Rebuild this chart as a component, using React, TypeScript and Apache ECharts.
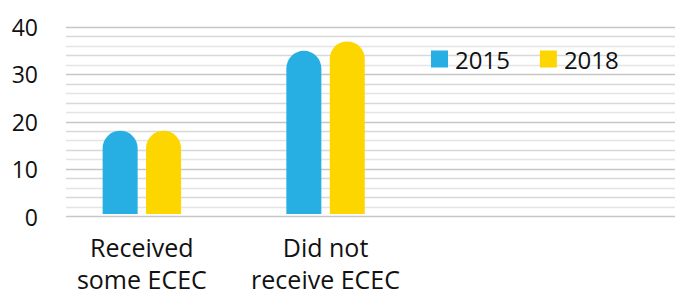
import React, { useEffect, useRef } from "react";
import * as echarts from "echarts";

const categories = ["Received\nsome ECEC", "Did not\nreceive ECEC"];
const series2015 = [17.8, 34.9];
const series2018 = [17.8, 36.9];
const yTickLabels = [0, 10, 20, 30, 40];

const FONT = "'Open Sans', 'Noto Sans', sans-serif";

export default function App() {
  const ref = useRef<HTMLDivElement>(null);
  useEffect(() => {
    if (!ref.current) return;
    const chart = echarts.init(ref.current, null, { renderer: "svg" });
    const gridTop = 27;
    const gridBottom = 78.5;
    chart.setOption({
      animation: false,
      backgroundColor: "#ffffff",
      textStyle: { fontFamily: FONT },
      legend: {
        left: 426,
        top: 42,
        itemWidth: 17,
        itemHeight: 17,
        itemGap: 30,
        icon: "rect",
        textStyle: { fontSize: 24, color: "#111", fontFamily: FONT, padding: [0, 0, 0, 2] },
        data: ["2015", "2018"],
      },
      grid: [
        { left: 66, right: 0, top: gridTop, bottom: gridBottom },
        { left: 50, width: 367.4, top: gridTop, bottom: gridBottom },
      ],
      xAxis: [
        { type: "category", gridIndex: 0, data: [""], show: false },
        {
          type: "category",
          gridIndex: 1,
          data: categories,
          axisLine: { show: false },
          axisTick: { show: false },
          axisLabel: {
            interval: 0,
            hideOverlap: false,
            fontSize: 25,
            lineHeight: 32,
            color: "#111",
            margin: 17,
            fontFamily: FONT,
          },
        },
      ],
      yAxis: [
        {
          type: "value",
          gridIndex: 0,
          min: 0,
          max: 40,
          interval: 2,
          axisLine: { show: false },
          axisTick: { show: false },
          axisLabel: {
            fontSize: 23,
            color: "#111",
            margin: 28,
            fontFamily: FONT,
            formatter: (v: number) => (yTickLabels.includes(v) ? String(v) : ""),
          },
          splitLine: {
            lineStyle: {
              width: 1.3,
              color: ["#c6c6c6", "#e4e4e4", "#d8d8d8", "#e4e4e4", "#d8d8d8"],
            },
          },
        },
        {
          type: "value",
          gridIndex: 1,
          min: 0,
          max: 40,
          show: false,
          splitLine: { show: false },
        },
      ],
      series: [
        {
          name: "2015",
          type: "bar",
          xAxisIndex: 1,
          yAxisIndex: 1,
          data: series2015,
          barWidth: 35,
          barGap: "24%",
          itemStyle: { color: "#27AFE3", borderRadius: [17.5, 17.5, 0, 0] },
        },
        {
          name: "2018",
          type: "bar",
          xAxisIndex: 1,
          yAxisIndex: 1,
          data: series2018,
          barWidth: 35,
          barGap: "24%",
          itemStyle: { color: "#FDD600", borderRadius: [17.5, 17.5, 0, 0] },
        },
      ],
    });
    return () => chart.dispose();
  }, []);
  return <div ref={ref} style={{ width: 675, height: 295, position: "absolute", left: 0, top: 0 }} />;
}
